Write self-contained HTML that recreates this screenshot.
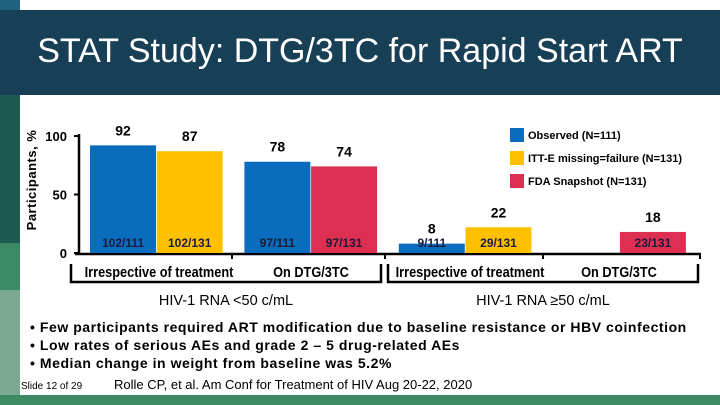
<!DOCTYPE html>
<html><head><meta charset="utf-8"><style>
body{margin:0;width:720px;height:405px;overflow:hidden;background:#fff;font-family:"Liberation Sans",sans-serif;position:relative}
div,span{position:absolute}
.b{font-weight:bold}
</style></head><body>
<div style="left:0;top:0;width:20px;height:10px;background:#1f6280"></div>
<div style="left:0;top:95px;width:20px;height:148px;background:#1d5a4f"></div>
<div style="left:0;top:243px;width:20px;height:47px;background:#3a8a63"></div>
<div style="left:0;top:290px;width:20px;height:115px;background:#7aa891"></div>
<div style="left:0;top:10px;width:720px;height:85px;background:#173f56"></div>
<div style="left:20px;top:31px;width:680px;text-align:center;color:#fff;font-size:34px;line-height:40px">STAT Study: DTG/3TC for Rapid Start ART</div>
<div style="left:0;top:395px;width:720px;height:10px;background:#3d8a62"></div>
<svg id="chart" width="720" height="405" style="position:absolute;left:0;top:0;font-family:'Liberation Sans',sans-serif"></svg>
<div class="b" style="left:30px;top:319px;font-size:14px;letter-spacing:0.55px">• Few participants required ART modification due to baseline resistance or HBV coinfection</div>
<div class="b" style="left:30px;top:337px;font-size:14px;letter-spacing:0.55px">• Low rates of serious AEs and grade 2 – 5 drug-related AEs</div>
<div class="b" style="left:30px;top:355px;font-size:14px;letter-spacing:0.55px">• Median change in weight from baseline was 5.2%</div>
<div style="left:21px;top:381px;font-size:10px">Slide 12 of 29</div>
<div style="left:114px;top:377px;font-size:13px">Rolle CP, et al. Am Conf for Treatment of HIV Aug 20-22, 2020</div>
<script>
const values=[92,87,78,74,8,22,null,18];
const fractions=["102/111","102/131","97/111","97/131","9/111","29/131","","23/131"];
const seriesIdx=[0,1,0,2,0,1,0,2];
const seriesNames=["Observed (N=111)","ITT-E missing=failure (N=131)","FDA Snapshot (N=131)"];
const colors=["#0a6cbd","#ffc000","#dc2f52"];
const groupLabels=["Irrespective of treatment","On DTG/3TC","Irrespective of treatment","On DTG/3TC"];
const sectionLabels=["HIV-1 RNA <50 c/mL","HIV-1 RNA ≥50 c/mL"];
const yTicks=[0,50,100];
const NS="http://www.w3.org/2000/svg";
const svg=document.getElementById('chart');
const y0=253,yTop=136;
function y(v){return y0-(v/100)*(y0-yTop);}
function xBar(i){return 90+i*66.7+Math.floor(i/2)*21;}
const bw=66;
function mk(t,a,txt){const e=document.createElementNS(NS,t);for(const k in a)e.setAttribute(k,a[k]);if(txt!==undefined)e.textContent=txt;svg.appendChild(e);return e;}
let e=mk('line',{x1:79,y1:134,x2:79,y2:254,stroke:'#000','stroke-width':2.5});

e=mk('line',{x1:75,y1:254,x2:701,y2:254,stroke:'#000','stroke-width':2.5});

[232,385,543,700].forEach(x=>{const t=mk('line',{x1:x,y1:253,x2:x,y2:259,stroke:'#000','stroke-width':2});
});
yTicks.forEach(v=>{const t=mk('line',{x1:74,y1:y(v),x2:79,y2:y(v),stroke:'#000','stroke-width':2});

const l=mk('text',{x:67,y:y(v)+5,'text-anchor':'end','font-size':13,'font-weight':'bold'},String(v));
});
const yt=mk('text',{x:0,y:0,transform:'translate(36,180) rotate(-90)','text-anchor':'middle','font-size':13,'font-weight':'bold','letter-spacing':'0.5'},'Participants, %');

values.forEach((v,i)=>{if(v===null)return;
const r=mk('rect',{x:xBar(i),y:y(v),width:bw,height:y0-y(v),fill:colors[seriesIdx[i]]});

const l=mk('text',{x:xBar(i)+bw/2,y:y(v)-10,'text-anchor':'middle','font-size':14,'font-weight':'bold'},String(v));

const f=mk('text',{x:xBar(i)+bw/2,y:247,'text-anchor':'middle','font-size':12,'font-weight':'bold',fill:'#1a1a3a'},fractions[i]);
});
groupLabels.forEach((g,k)=>{const cx=[159,311,470,619][k];
const t=mk('text',{x:cx,y:277,'text-anchor':'middle','font-size':14.5,'font-weight':'bold',transform:`translate(${cx},0) scale(0.88,1) translate(${-cx},0)`},g);
});
[[71,381],[388,698]].forEach(([a,b],k)=>{const p=mk('path',{d:`M${a},264 V282 H${b} V264`,fill:'none',stroke:'#000','stroke-width':2.5});

const t=mk('text',{x:(a+b)/2,y:305,'text-anchor':'middle','font-size':14.5},sectionLabels[k]);
});
seriesNames.forEach((n,k)=>{const r=mk('rect',{x:510,y:128+k*23,width:14,height:14,fill:colors[k]});

const t=mk('text',{x:528,y:139+k*23,'font-size':11,'font-weight':'bold'},n);
});
</script>
</body></html>
